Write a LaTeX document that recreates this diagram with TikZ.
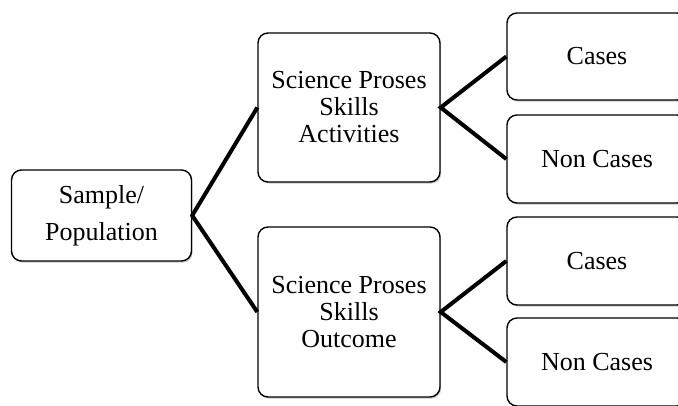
\documentclass[tikz,border=0pt]{standalone}
\usepackage{fontspec}
\setmainfont{Liberation Serif}
\usetikzlibrary{shadows}
\begin{document}
\begin{tikzpicture}[x=1pt,y=-1pt,
  box/.style={draw=black,line width=1.4pt,rounded corners=10pt,fill=white,
    align=center,inner sep=0pt,
    drop shadow={shadow xshift=1.2pt,shadow yshift=-1.6pt,opacity=0.35,fill=black!60},
    font=\fontsize{26}{27}\selectfont},
  link/.style={line width=4pt,line join=miter}]
\useasboundingbox (0,0) rectangle (678,405);
\clip (0,0) rectangle (678,405);
% root
\node[box,minimum width=180pt,minimum height=91pt] (sample) at (101.5,215.5)
  {Sample/\\[10pt]Population};
% second level
\node[box,minimum width=182pt,minimum height=149pt] (act) at (349,107.5)
  {Science Proses\\Skills\\Activities};
\node[box,minimum width=182pt,minimum height=170pt] (out) at (349,312)
  {Science Proses\\Skills\\Outcome};
% leaves
\node[box,minimum width=180pt,minimum height=87pt] (c1) at (597,56.5) {Cases};
\node[box,minimum width=180pt,minimum height=88pt] (n1) at (597,159) {Non Cases};
\node[box,minimum width=180pt,minimum height=88pt] (c2) at (597,261) {Cases};
\node[box,minimum width=180pt,minimum height=88pt] (n2) at (597,362) {Non Cases};
% connectors
\draw[link] (act.west) -- (sample.east) -- (out.west);
\draw[link] (c1.west) -- (act.east) -- (n1.west);
\draw[link] (c2.west) -- (out.east) -- (n2.west);
\end{tikzpicture}
\end{document}
